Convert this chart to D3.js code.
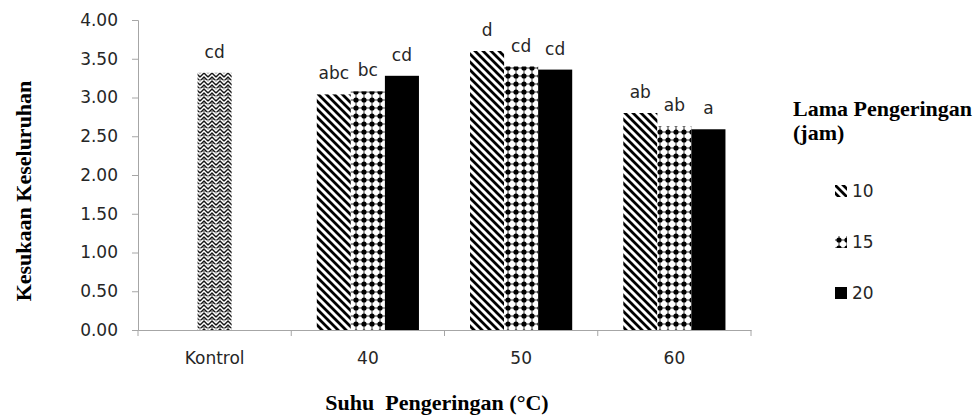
<!DOCTYPE html>
<html>
<head>
<meta charset="utf-8">
<script src="https://cdn.jsdelivr.net/npm/d3@7"></script>
<style>
  body { margin: 0; background: #fff; }
  svg text { fill: #262626; }
  .tick text { font-family: "DejaVu Sans", sans-serif; font-size: 17px; }
  .title { font-family: "Liberation Serif", serif; font-weight: bold; font-size: 22px; fill: #000; }
</style>
</head>
<body>
<div id="canvas"></div>
<script>
// data
var categories = ["Kontrol", "40", "50", "60"];
var series = ["10", "15", "20"];
var kontrolValue = 3.32, kontrolLabel = "cd";
var values10 = [3.04, 3.60, 2.80];
var values15 = [3.08, 3.40, 2.63];
var values20 = [3.28, 3.36, 2.59];
var labels10 = ["abc", "d", "ab"];
var labels15 = ["bc", "cd", "ab"];
var labels20 = ["cd", "cd", "a"];
var yTicks = [0, 0.5, 1, 1.5, 2, 2.5, 3, 3.5, 4];

var W = 978, H = 417;
var svg = d3.select('#canvas').append('svg')
    .attr('width', W).attr('height', H);

// fill patterns
var defs = svg.append('defs');

var pK = defs.append('pattern').attr('id', 'pK')
    .attr('patternUnits', 'userSpaceOnUse').attr('width', 8).attr('height', 8);
pK.append('rect').attr('width', 8).attr('height', 8).attr('fill', '#9a9a9a');
pK.append('polyline').attr('points', '0,3 4,-1 8,3').attr('fill', 'none').attr('stroke', '#fff').attr('stroke-width', 1.3);
pK.append('polyline').attr('points', '0,7 4,3 8,7').attr('fill', 'none').attr('stroke', '#fff').attr('stroke-width', 1.3);
pK.append('polyline').attr('points', '0,5 4,1 8,5').attr('fill', 'none').attr('stroke', '#111').attr('stroke-width', 1.1);
pK.append('polyline').attr('points', '0,9 4,5 8,9').attr('fill', 'none').attr('stroke', '#111').attr('stroke-width', 1.1);

var p10 = defs.append('pattern').attr('id', 'p10')
    .attr('patternUnits', 'userSpaceOnUse').attr('width', 8).attr('height', 8);
p10.append('rect').attr('width', 8).attr('height', 8).attr('fill', '#fff');
p10.append('path').attr('d', 'M-1,-1 L9,9 M-3,5 L3,11 M5,-3 L11,3')
    .attr('stroke', '#000').attr('stroke-width', 2.8);

var p15 = defs.append('pattern').attr('id', 'p15')
    .attr('patternUnits', 'userSpaceOnUse').attr('width', 8).attr('height', 8);
p15.append('rect').attr('width', 8).attr('height', 8).attr('fill', '#fff');
p15.append('path').attr('d', 'M4,0 L4,8 M0,4 L8,4').attr('stroke', '#000').attr('stroke-width', 0.8);
p15.append('circle').attr('cx', 4).attr('cy', 4).attr('r', 2.6).attr('fill', '#000');

var fills = {"10": "url(#p10)", "15": "url(#p15)", "20": "#000"};

// scales
var x = d3.scaleBand().domain(categories).range([138, 751]);
var xs = d3.scaleBand().domain(series).range([0, x.bandwidth()]).paddingOuter(0.75);
var y = d3.scaleLinear().domain([0, 4]).range([330, 20]);

// axes
var yAxis = svg.append('g').attr('transform', 'translate(138,0)')
    .call(d3.axisLeft(y).tickValues(yTicks).tickFormat(d3.format('.2f')).tickSize(6).tickPadding(14));
var xAxis = svg.append('g').attr('transform', 'translate(0,330)')
    .call(d3.axisBottom(x).tickSize(0).tickPadding(22));
[yAxis, xAxis].forEach(function(a){
  a.selectAll('path.domain').attr('stroke', '#a6a6a6');
  a.selectAll('.tick line').attr('stroke', '#a6a6a6');
  a.selectAll('.tick text').attr('fill', '#333');
});
// category dividers on x axis
xAxis.selectAll('.divider')
    .data(categories.map(function(c){ return x(c); }).concat([x.range()[1]]))
    .enter().append('line')
    .attr('x1', function(d){ return d; }).attr('x2', function(d){ return d; })
    .attr('y1', 0).attr('y2', 6).attr('stroke', '#a6a6a6');

var plot = svg.append('g');

// Kontrol bar
plot.append('rect')
    .attr('x', x('Kontrol') + xs('15'))
    .attr('y', y(kontrolValue))
    .attr('width', xs.bandwidth())
    .attr('height', y(0) - y(kontrolValue))
    .attr('fill', 'url(#pK)');
plot.append('text')
    .attr('x', x('Kontrol') + xs('15') + xs.bandwidth() / 2)
    .attr('y', y(kontrolValue) - 15)
    .attr('text-anchor', 'middle')
    .style('font-family', '"DejaVu Sans", sans-serif').style('font-size', '17px')
    .text(kontrolLabel);

// treatment bars
var rows = [];
var vals = {"10": values10, "15": values15, "20": values20};
var labs = {"10": labels10, "15": labels15, "20": labels20};
categories.slice(1).forEach(function(c, i){
  series.forEach(function(s){
    rows.push({cat: c, ser: s, v: vals[s][i], lab: labs[s][i]});
  });
});

plot.selectAll('.bar').data(rows).enter().append('rect')
    .attr('class', 'bar')
    .attr('x', function(d){ return x(d.cat) + xs(d.ser); })
    .attr('y', function(d){ return y(d.v); })
    .attr('width', xs.bandwidth())
    .attr('height', function(d){ return y(0) - y(d.v); })
    .attr('fill', function(d){ return fills[d.ser]; });

plot.selectAll('.lab').data(rows).enter().append('text')
    .attr('class', 'lab')
    .attr('x', function(d){ return x(d.cat) + xs(d.ser) + xs.bandwidth() / 2; })
    .attr('y', function(d){ return y(d.v) - 15; })
    .attr('text-anchor', 'middle')
    .style('font-family', '"DejaVu Sans", sans-serif').style('font-size', '17px')
    .text(function(d){ return d.lab; });

// axis titles
svg.append('text').attr('class', 'title')
    .attr('transform', 'translate(31,191) rotate(-90)')
    .attr('text-anchor', 'middle')
    .text('Kesukaan Keseluruhan');
svg.append('text').attr('class', 'title')
    .attr('x', 437).attr('y', 410)
    .attr('text-anchor', 'middle')
    .attr('xml:space', 'preserve')
    .text('Suhu  Pengeringan (°C)');

// legend
var legend = svg.append('g');
legend.append('text').attr('class', 'title').attr('x', 793).attr('y', 116).text('Lama Pengeringan');
legend.append('text').attr('class', 'title').attr('x', 793).attr('y', 140).text('(jam)');
var li = legend.selectAll('.item').data(series).enter().append('g')
    .attr('class', 'item')
    .attr('transform', function(d, i){ return 'translate(835,' + (185 + i * 51) + ')'; });
li.append('rect').attr('width', 12).attr('height', 12)
    .attr('fill', function(d){ return fills[d]; });
li.append('text').attr('x', 17).attr('y', 12)
    .style('font-family', '"DejaVu Sans", sans-serif').style('font-size', '17px')
    .text(function(d){ return d; });
</script>
</body>
</html>
